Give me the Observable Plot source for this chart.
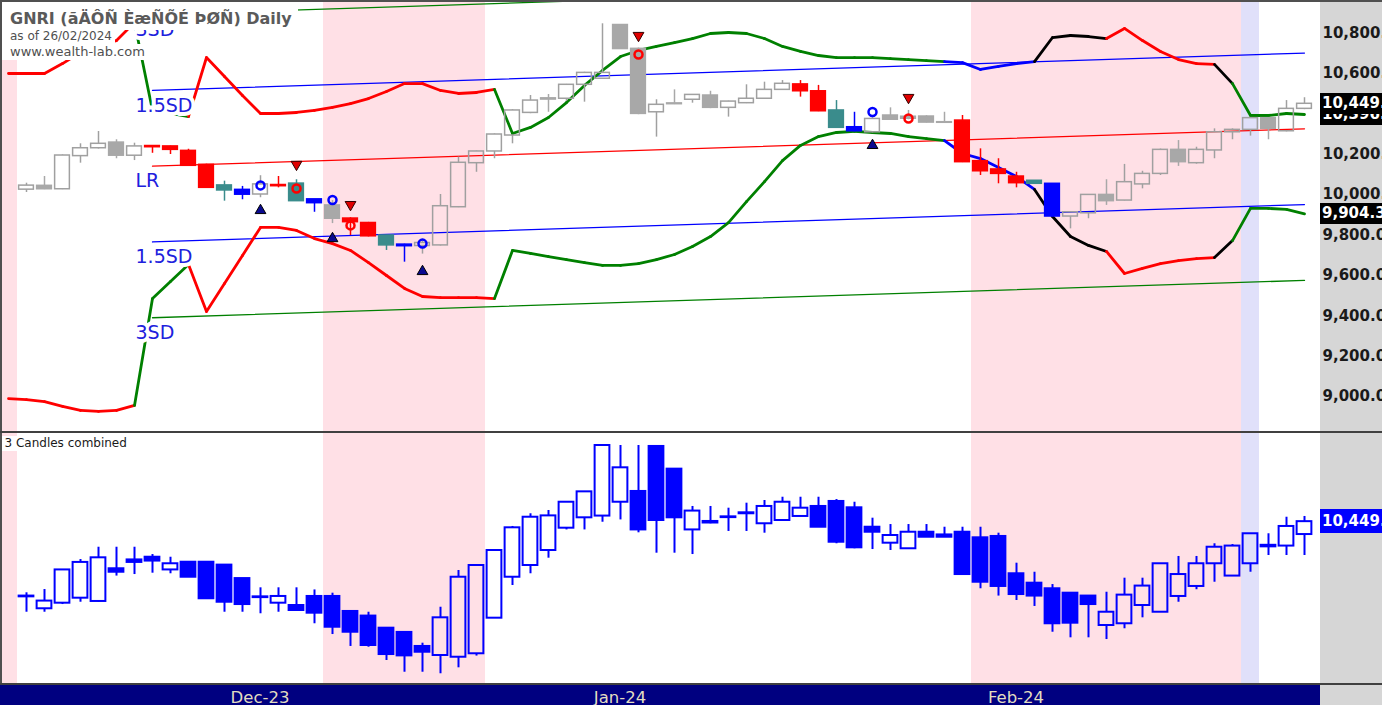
<!DOCTYPE html>
<html><head><meta charset="utf-8">
<script src="https://cdn.jsdelivr.net/npm/d3@7"></script>
<script src="https://cdn.jsdelivr.net/npm/@observablehq/plot@0.6"></script>
<style>
html,body{margin:0;padding:0;background:#fff;overflow:hidden}
#root{position:relative;width:1382px;height:705px;overflow:hidden;background:#fff;font-family:"DejaVu Sans",sans-serif}
#root svg{display:block}
</style></head><body><div id="root"></div>
<script>
// ---------- DATA ----------
const titleText = "GNRI (ãÄÔÑ ÈæÑÕÉ ÞØÑ) Daily";
const asOfText = "as of 26/02/2024";
const siteText = "www.wealth-lab.com";
const lowerPaneTitle = "3 Candles combined";

// daily candles (top pane), bar index 0..71
const topOpen  = [10024,10043,10026,10190,10229,10257,10192,10240,10238,10216, 10147,10045,10023,10000,10047,10054,9976,9946,9881,9859, 9797,9752,9745,9748,9937,10155,10213,10292,10404,10476, 10474,10543,10573,10839,10721,10407,10451,10469,10490,10429, 10452,10474,10518,10545,10511,10416,10333,10308,10391,10385, 10386,10358,10366,10165,10124,10089,10068,10053,9891,9907, 9998,9970,10050,10102,10221,10155,10218,10308,10320,10378, 10313,10424];
const topHigh  = [10056,10089,10196,10251,10312,10271,10254,10242,10240,10224, 10150,10066,10040,10093,10089,10073,9976,9970,9885,9862, 9797,9754,9770,10000,10185,10215,10300,10420,10490,10495, 10545,10605,10845,10840,10725,10469,10518,10495,10511,10462, 10543,10556,10564,10564,10540,10465,10407,10380,10429,10416, 10390,10407,10391,10226,10177,10110,10068,10053,9915,10000, 10073,10149,10115,10225,10267,10234,10325,10325,10380,10380, 10465,10479];
const topLow   = [10010,10024,10024,10155,10225,10177,10168,10204,10198,10142, 10030,9967,9974,9984,10033,9967,9912,9856,9797,9790, 9723,9665,9705,9745,9935,10110,10177,10251,10400,10407, 10460,10457,10570,10720,10395,10284,10445,10452,10425,10383, 10450,10472,10516,10482,10410,10328,10310,10305,10368,10370, 10354,10354,10158,10094,10053,10033,10053,9889,9830,9880, 9946,9968,10028,10094,10139,10150,10177,10271,10289,10271, 10310,10420];
const topClose = [10044,10026,10193,10229,10251,10192,10238,10234,10221,10142, 10033,10020,9999,10050,10041,9967,9957,9880,9863,9793, 9748,9744,9760,9942,10157,10213,10297,10416,10465,10470, 10543,10602,10602,10720,10399,10444,10447,10493,10429,10460, 10474,10518,10548,10511,10412,10330,10313,10374,10370,10375, 10356,10355,10160,10115,10102,10056,10053,9891,9912,9998, 9967,10061,10102,10221,10160,10221,10308,10320,10378,10325, 10424,10449];
// candle colouring: w hollow grey, g grey, r red, t teal, b blue
const topKind  = ["w","g","w","w","w","g","w","r","r","r", "r","t","b","w","r","t","b","g","r","r", "t","b","w","w","w","w","w","w","w","g", "w","w","w","g","g","w","g","w","g","w", "w","w","w","r","r","t","b","w","g","g", "g","g","r","r","r","r","t","b","w","w", "g","w","w","w","g","w","w","w","w","g", "w","w"];

// 3 candles combined (bottom pane)
const comboOpen  = [10058,9996,10025,10051,10034,10204,10250,10264,10198,10238, 10238,10223,10153,10058,10025,10013,10060,10060,9982,9958, 9895,9873,9800,9753,9744,9762,9947,10160,10221,10299, 10415,10469,10478,10550,10606,10840,10722,10406,10450,10470, 10495,10438,10455,10476,10528,10554,10521,10420,10337,10308, 10394,10380,10394,10365,10372,10178,10129,10100,10077,10062, 9909,9918,10013,9978,10060,10112,10230,10166,10230,10318, 10322,10382];
const comboHigh  = [10079,10096,10198,10252,10316,10316,10316,10278,10264,10238, 10238,10225,10153,10105,10105,10105,10094,10077,9982,9978, 9895,9873,9817,10004,10195,10221,10299,10424,10490,10507, 10550,10604,10845,10845,10845,10845,10722,10528,10528,10519, 10545,10559,10576,10576,10576,10564,10550,10467,10434,10434, 10434,10420,10420,10420,10389,10233,10186,10122,10077,10062, 10082,10155,10155,10230,10268,10268,10334,10330,10386,10386, 10472,10476];
const comboLow   = [9978,9978,10018,10030,10030,10166,10174,10181,10178,10160, 10048,9978,9978,9970,9978,9987,9918,9862,9800,9796, 9727,9666,9666,9658,9689,9750,9947,10117,10178,10259, 10406,10406,10446,10458,10391,10285,10285,10278,10438,10398, 10398,10389,10455,10476,10420,10334,10308,10304,10299,10308, 10368,10368,10174,10100,10062,10039,10008,9874,9845,9845, 9836,9892,9949,9978,10030,10095,10134,10166,10186,10273, 10273,10273];
const comboClose = [10062,10036,10198,10237,10261,10186,10237,10244,10230,10160, 10048,10030,10018,10054,10060,9987,9973,9900,9874,9805, 9758,9751,9770,9949,10160,10221,10299,10417,10472,10479, 10550,10604,10845,10729,10406,10455,10469,10504,10442,10474, 10490,10528,10550,10519,10420,10342,10313,10394,10377,10394, 10368,10368,10174,10134,10112,10070,10062,9918,9921,10018, 9978,10067,10114,10230,10174,10230,10316,10322,10386,10326, 10424,10449];

// thick envelope, bar index -1..71
const bandUpper = [10599,10599,10599,10648,10703,10738,10762,10851,10416,10401,10386, 10678,10584,10490,10401,10401,10406,10416,10431,10450,10475, 10510,10549,10549,10515,10500,10505,10520,10302,10332,10381, 10455,10540,10614,10683,10713,10733,10752,10772,10797,10802, 10797,10772,10733,10708,10688,10678,10678,10678,10673,10668, 10663,10658,10653,10619,10634,10648,10658,10777,10787,10782, 10772,10822,10762,10708,10668,10648,10644,10549,10391,10391, 10401,10396];
const bandLower = [8990,8985,8975,8951,8931,8926,8931,8956,9485,9569,9653, 9421,9559,9698,9837,9837,9822,9782,9757,9723,9663, 9599,9535,9495,9490,9490,9490,9485,9723,9708,9693, 9678,9663,9649,9649,9658,9678,9703,9743,9792,9861, 9965,10064,10168,10243,10287,10307,10312,10307,10302,10287, 10277,10267,10203,10178,10134,10089,10025,9891,9792,9748, 9718,9609,9634,9658,9673,9683,9688,9772,9931,9931, 9926,9904.3];
const bandFirstBar = -1;
// colour state runs of the envelope segments: r red, g green, b blue, k black
const bandRuns = [["r",7],["g",3],["r",17],["g",25],["b",5],["k",4],["r",6],["k",1],["g",4]];

// linear regression channel
const lrFirst = 7, lrLast = 71;
const lrStartValue = 10140, lrEndValue = 10325, sdValue = 250;
const sdMults  = [3, 1.5, 0, -1.5, -3];
const sdLabels = ["3SD", "1.5SD", "LR", "1.5SD", "3SD"];

// signals
const buyIdx = [13, 17, 22, 47];
const buyTriangle = [9921, 9782, 9619, 10243];
const buyCircle = [10045, 9973, 9757, 10408];
const sellIdx = [15, 18, 34, 49];
const sellTriangle = [10149, 9950, 10787, 10480];
const sellCircle = [10030, 9847, 10693, 10376];

// shaded periods
const shadeFrom = [-1, 17, 53, 68];
const shadeTo   = [-1, 25, 67, 68];
const shadeKind = ["pink", "pink", "pink", "lav"];

// axes
const yTicks = [9000, 9200, 9400, 9600, 9800, 10000, 10200, 10400, 10600, 10800];
const monthLabels = ["Dec-23", "Jan-24", "Feb-24"];
const monthIdx = [13, 33, 55];

// ---------- STYLE / LAYOUT ----------
const W = 1382, PW = 1320, TOP_H = 432, BOT_Y = 433, BOT_H = 250;
const xDomain = [-26/18, (PW - 26)/18];
const topYDomain = [8821.9, 10960.3];
const botYDomain = [9607.4, 10907.4];
const kindColor = {w:"#a0a0a0", g:"#a8a8a8", r:"#ff0000", t:"#3a8c8c", b:"#0000ff"};
const stateColor = {r:"#ff0000", g:"#008000", b:"#0000ff", k:"#000000"};
const shadeColor = {pink:"#ffe0e6", lav:"#e0e0fa"};
const sdColor = m => m === 0 ? "#ff0000" : Math.abs(m) === 3 ? "#008000" : "#0000ff";

const topCandles = topOpen.map((o,i)=>({i, o, h:topHigh[i], l:topLow[i], c:topClose[i], k:topKind[i]}));
const comboCandles = comboOpen.map((o,i)=>({i, o, h:comboHigh[i], l:comboLow[i], c:comboClose[i]}));
const shades = shadeFrom.map((f,k)=>({x1:f-0.5, x2:shadeTo[k]+0.5, fill:shadeColor[shadeKind[k]]}));
const bandState = bandRuns.flatMap(([s,n]) => Array(n).fill(s));
const bandSegs = bandState.map((s,k)=>({x1:bandFirstBar+k, x2:bandFirstBar+k+1, u1:bandUpper[k], u2:bandUpper[k+1], l1:bandLower[k], l2:bandLower[k+1], col:stateColor[s]}));
const lrPts = sdMults.flatMap((m,k)=>[{k, m, i:lrFirst, v:lrStartValue + m*sdValue}, {k, m, i:lrLast, v:lrEndValue + m*sdValue}]);
const lrLab = sdMults.map((m,k)=>({i:lrFirst, v:lrStartValue + m*sdValue, t:sdLabels[k]}));
const buys = buyIdx.map((i,k)=>({i, tv:buyTriangle[k], cv:buyCircle[k]}));
const sells = sellIdx.map((i,k)=>({i, tv:sellTriangle[k], cv:sellCircle[k]}));
const triDown = {draw(ctx, size){ const y = Math.sqrt(size/(Math.sqrt(3)*3)); const x = y*Math.sqrt(3); ctx.moveTo(0, 2*y); ctx.lineTo(-x, -y); ctx.lineTo(x, -y); ctx.closePath(); }};
const HW = 0.41;

function candleMarks(data, colorOf, hollowTest, sw) {
  return [
    Plot.ruleX(data, {x:"i", y1:d=>Math.max(d.o,d.c), y2:"h", stroke:colorOf, strokeWidth:sw}),
    Plot.ruleX(data, {x:"i", y1:"l", y2:d=>Math.min(d.o,d.c), stroke:colorOf, strokeWidth:sw}),
    Plot.rect(data.filter(d=>!hollowTest(d)), {x1:d=>d.i-HW, x2:d=>d.i+HW, y1:"o", y2:"c", fill:colorOf, stroke:colorOf, strokeWidth:sw}),
    Plot.rect(data.filter(hollowTest), {x1:d=>d.i-HW, x2:d=>d.i+HW, y1:"o", y2:"c", fill:"none", stroke:colorOf, strokeWidth:sw})
  ];
}

const topPlot = Plot.plot({
  width: W, height: TOP_H, marginLeft: 0, marginRight: W - PW, marginTop: 0, marginBottom: 0,
  x: {domain: xDomain, axis: null},
  y: {domain: topYDomain},
  color: {type: "identity"},
  style: {background: "transparent", overflow: "hidden"},
  marks: [
    Plot.rect(shades, {x1:"x1", x2:"x2", fill:"fill"}),
    Plot.line(lrPts, {x:"i", y:"v", z:"k", stroke:d=>sdColor(d.m), strokeWidth:1.3}),
    Plot.link(bandSegs, {x1:"x1", x2:"x2", y1:"u1", y2:"u2", stroke:"col", strokeWidth:2.8, strokeLinecap:"round"}),
    Plot.link(bandSegs, {x1:"x1", x2:"x2", y1:"l1", y2:"l2", stroke:"col", strokeWidth:2.8, strokeLinecap:"round"}),
    ...candleMarks(topCandles, d=>kindColor[d.k], d=>d.k==="w", 1.5),
    Plot.dot(buys, {x:"i", y:"cv", r:4, fill:"none", stroke:"#0000ff", strokeWidth:2.5}),
    Plot.dot(sells, {x:"i", y:"cv", r:4, fill:"none", stroke:"#ff0000", strokeWidth:2.5}),
    Plot.dot(buys, {x:"i", y:"tv", symbol:"triangle", r:4, fill:"#0a0a90", stroke:"#000", strokeWidth:1}),
    Plot.dot(sells, {x:"i", y:"tv", symbol:triDown, r:4, fill:"#e00000", stroke:"#300000", strokeWidth:1}),
    Plot.text(lrLab, {x:"i", y:"v", text:"t", textAnchor:"start", dx:-17, dy:15, fill:"#2020dd", fontSize:19, fontFamily:"DejaVu Sans", stroke:"white", strokeWidth:8, paintOrder:"stroke"}),
    Plot.axisY(yTicks, {anchor:"right", tickSize:0, tickPadding:2, tickFormat:d3.format(",.2f"), fontSize:15, fontWeight:"bold", fontFamily:"DejaVu Sans", fill:"#1a1a1a"})
  ]
});

const botPlot = Plot.plot({
  width: W, height: BOT_H, marginLeft: 0, marginRight: W - PW, marginTop: 0, marginBottom: 0,
  x: {domain: xDomain, axis: null},
  y: {domain: botYDomain, axis: null},
  color: {type: "identity"},
  style: {background: "transparent", overflow: "hidden"},
  marks: [
    Plot.rect(shades, {x1:"x1", x2:"x2", fill:"fill"}),
    ...candleMarks(comboCandles, ()=>"#0000ff", d=>d.c>=d.o, 2)
  ]
});

// ---------- ASSEMBLY ----------
const root = document.getElementById("root");
function box(css, text){ const d = document.createElement("div"); d.style.cssText = "position:absolute;white-space:nowrap;" + css; if (text != null) d.textContent = text; root.appendChild(d); return d; }

box(`left:${PW}px;top:0;width:${W-PW}px;height:705px;background:#d6d6d6;`);
const tw = box(`left:0;top:0;width:${W}px;height:${TOP_H}px;`); tw.appendChild(topPlot);
const bw = box(`left:0;top:${BOT_Y}px;width:${W}px;height:${BOT_H}px;`); bw.appendChild(botPlot);

// frame lines
box(`left:0;top:0;width:${W}px;height:1.5px;background:#505050;`);
box(`left:0;top:0;width:1.5px;height:705px;background:#505050;`);
box(`left:0;top:430.5px;width:${W}px;height:2.5px;background:#404040;`);
box(`left:0;top:683px;width:${W}px;height:2px;background:#404040;`);
box(`left:0;top:685px;width:${PW}px;height:20px;background:#000080;overflow:hidden;`);

// month labels on the date band
const xs = topPlot.scale("x");
monthLabels.forEach((t,k)=>{
  const cx = xs.apply(monthIdx[k]);
  box(`left:${cx-40}px;top:688px;width:80px;text-align:center;font:16.5px 'DejaVu Sans';line-height:20px;color:#e2ddc0;height:17px;overflow:hidden;`, t);
});

// title block
box(`left:2px;top:1.5px;padding:7px 6px 2px 8px;background:#fff;font:bold 16px 'DejaVu Sans';line-height:19px;color:#5a5a5a;`, titleText);
box(`left:2px;top:29px;padding:0 3px 0 8px;background:#fff;font:12px 'DejaVu Sans';line-height:15px;color:#505050;`, asOfText);
box(`left:2px;top:44px;padding:0 3px 0 8px;background:#fff;font:13px 'DejaVu Sans';line-height:16px;color:#505050;`, siteText);
box(`left:1.5px;top:${BOT_Y+3}px;padding:0 4px 0 3px;background:#fff;font:12px 'DejaVu Sans';line-height:15px;color:#1a1a1a;`, lowerPaneTitle);

// last-value boxes on the price axis
const yT = topPlot.scale("y"), yB = botPlot.scale("y");
const fmt = d3.format(",.2f");
function valueBox(yPix, value, bg, h){
  box(`left:${PW}px;top:${yPix - h/2}px;width:${W-PW}px;height:${h}px;background:${bg};color:#fff;font:bold 15px 'DejaVu Sans';line-height:${h}px;padding-left:2px;overflow:hidden;box-sizing:border-box;`, fmt(value));
}
valueBox(yT.apply(bandUpper[bandUpper.length-1]), bandUpper[bandUpper.length-1], "#000", 21);
valueBox(yT.apply(topClose[topClose.length-1]), topClose[topClose.length-1], "#000", 21);
valueBox(yT.apply(bandLower[bandLower.length-1]), bandLower[bandLower.length-1], "#000", 21);
valueBox(BOT_Y + yB.apply(comboClose[comboClose.length-1]), comboClose[comboClose.length-1], "#0000ff", 24);
</script></body></html>
